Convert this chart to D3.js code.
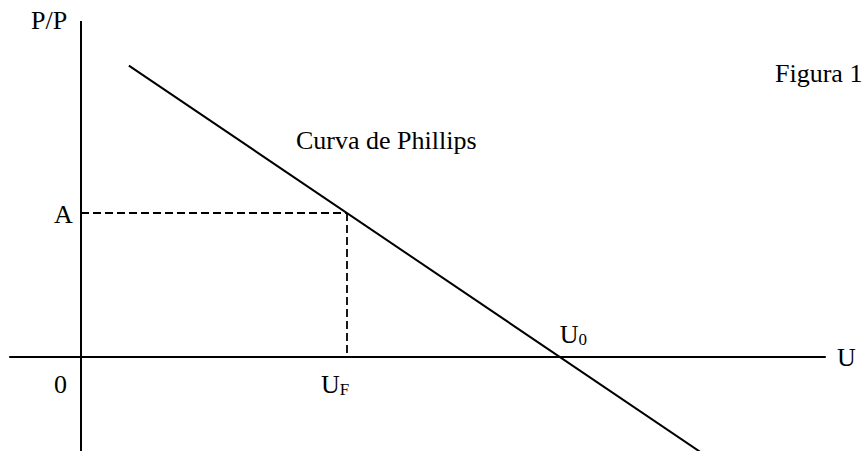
<!DOCTYPE html>
<html>
<head>
<meta charset="utf-8">
<script src="https://cdn.jsdelivr.net/npm/d3@7"></script>
<style>
  body { margin: 0; background: #fff; }
</style>
</head>
<body>
<svg id="chart" width="864" height="451"></svg>
<script>
// values (abstract units)
var uDomain = [-1.35, 14.0];     // extent of the U axis
var pDomain = [-2.0, 7.0];       // extent of the P/P axis
var phillips = [{u: 0.9, p: 6.07}, {u: 11.67, p: -2.0}];
var pointA = {u: 5, p: 3};       // U_F, A
var u0 = 9;
var labels = ["P/P", "U", "0", "A", "Curva de Phillips", "Figura 1"];

var svg = d3.select("#chart");
var g = svg.append("g")
  .attr("font-family", "'Liberation Serif', 'DejaVu Serif', 'Times New Roman', serif")
  .attr("fill", "#000");

var x = d3.scaleLinear().domain([0, 1]).range([81, 81 + 53.2]);
var y = d3.scaleLinear().domain([0, 1]).range([357, 357 - 48]);

// axes
g.append("line")
  .attr("x1", x(uDomain[0])).attr("x2", x(uDomain[1]))
  .attr("y1", y(0)).attr("y2", y(0))
  .attr("stroke", "#000").attr("stroke-width", 2);

g.append("line")
  .attr("x1", x(0)).attr("x2", x(0))
  .attr("y1", y(pDomain[1])).attr("y2", y(pDomain[0]))
  .attr("stroke", "#000").attr("stroke-width", 2);

// dashed guides to point A
var guides = [
  [{u: 0, p: pointA.p}, {u: pointA.u, p: pointA.p}],
  [{u: pointA.u, p: pointA.p}, {u: pointA.u, p: 0}]
];
var lineFunction = d3.line()
  .x(function(d) { return x(d.u); })
  .y(function(d) { return y(d.p); });

g.selectAll("path.guide").data(guides).enter()
  .append("path")
  .attr("class", "guide")
  .attr("d", function(d) { return lineFunction(d); })
  .attr("stroke", "#000")
  .attr("stroke-width", 1.8)
  .attr("stroke-dasharray", "8,4")
  .attr("fill", "none");

// phillips curve
g.append("path")
  .attr("d", lineFunction(phillips))
  .attr("stroke", "#000")
  .attr("stroke-width", 2)
  .attr("fill", "none");

// labels
var fs = 26;
g.append("text").attr("x", 31).attr("y", 29).attr("font-size", fs).text(labels[0]);
g.append("text").attr("x", 837).attr("y", y(0) + 9).attr("font-size", fs).text(labels[1]);
g.append("text").attr("x", x(0) - 27).attr("y", y(0) + 36).attr("font-size", fs).text(labels[2]);
g.append("text").attr("x", x(0) - 27).attr("y", y(pointA.p) + 10).attr("font-size", fs).text(labels[3]);
g.append("text").attr("x", 296).attr("y", 149).attr("font-size", fs).text(labels[4]);
g.append("text").attr("x", 775).attr("y", 82).attr("font-size", fs).text(labels[5]);

var uf = g.append("text").attr("x", x(pointA.u) - 26).attr("y", y(0) + 36).attr("font-size", fs);
uf.append("tspan").text("U");
uf.append("tspan").attr("font-size", 17).attr("dy", 2).text("F");

var uz = g.append("text").attr("x", x(u0)).attr("y", y(0) - 14).attr("font-size", fs);
uz.append("tspan").text("U");
uz.append("tspan").attr("font-size", 17).attr("dy", 2).text("0");
</script>
</body>
</html>
